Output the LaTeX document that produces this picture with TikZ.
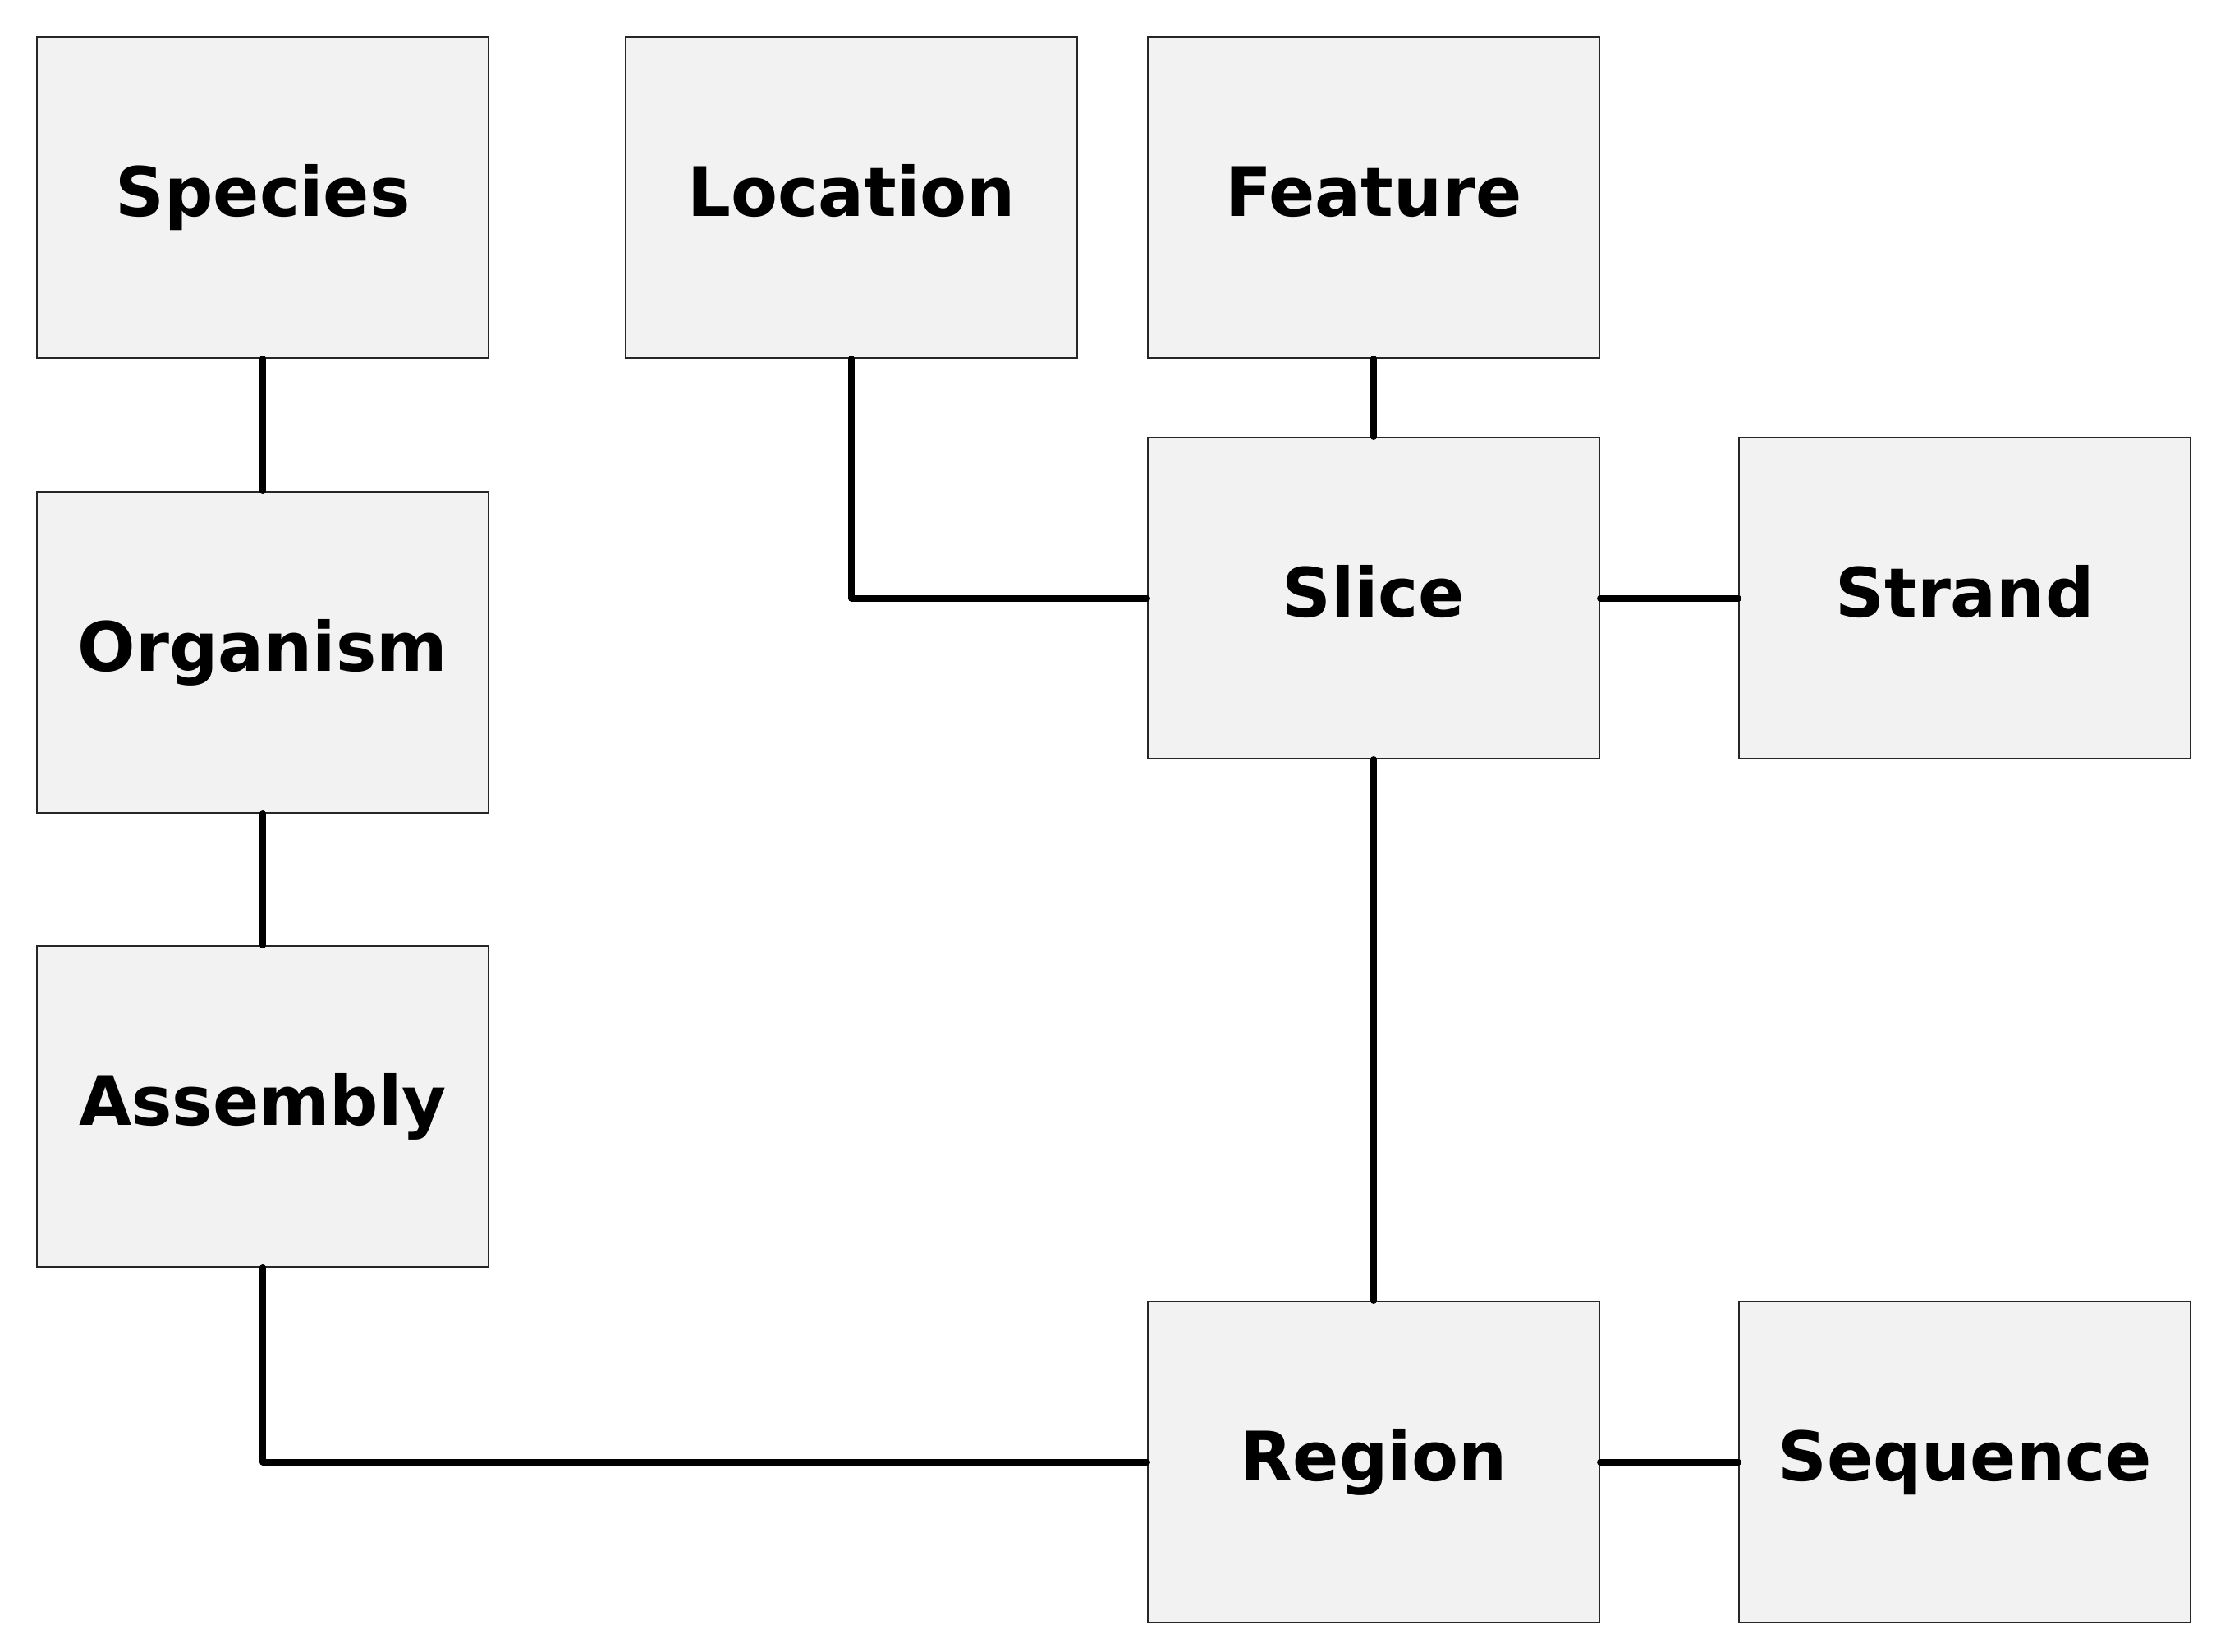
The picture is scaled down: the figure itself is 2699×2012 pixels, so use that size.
\documentclass[tikz,border=0pt]{standalone}
\usepackage{fontspec}
\setmainfont{DejaVu Sans}
\begin{document}
\begin{tikzpicture}[x=1pt,y=-1pt,
  ent/.style={draw=black!85,line width=2pt,fill={rgb,255:red,242;green,242;blue,242},
    minimum width=550pt,minimum height=391pt,inner sep=0pt,
    text height=70pt,text depth=24pt,
    font=\fontsize{83}{100}\selectfont\bfseries},
  conn/.style={line width=8pt,line cap=round,line join=round}]
\useasboundingbox (0,0) rectangle (2699,2012);
\node[ent] (species)  at (320,240.5)   {Species};
\node[ent] (location) at (1037,240.5)  {Location};
\node[ent] (feature)  at (1673,240.5)  {Feature};
\node[ent] (organism) at (320,794.5)   {Organism};
\node[ent] (slice)    at (1673,728.5)  {Slice};
\node[ent] (strand)   at (2393,728.5)  {Strand};
\node[ent] (assembly) at (320,1347.5)  {Assembly};
\node[ent] (region)   at (1673,1780.5) {Region};
\node[ent] (sequence) at (2393,1780.5) {Sequence};
\draw[conn] (species.south) -- (organism.north);
\draw[conn] (organism.south) -- (assembly.north);
\draw[conn] (assembly.south) |- (region.west);
\draw[conn] (location.south) |- (slice.west);
\draw[conn] (feature.south) -- (slice.north);
\draw[conn] (slice.east) -- (strand.west);
\draw[conn] (slice.south) -- (region.north);
\draw[conn] (region.east) -- (sequence.west);
\end{tikzpicture}
\end{document}
